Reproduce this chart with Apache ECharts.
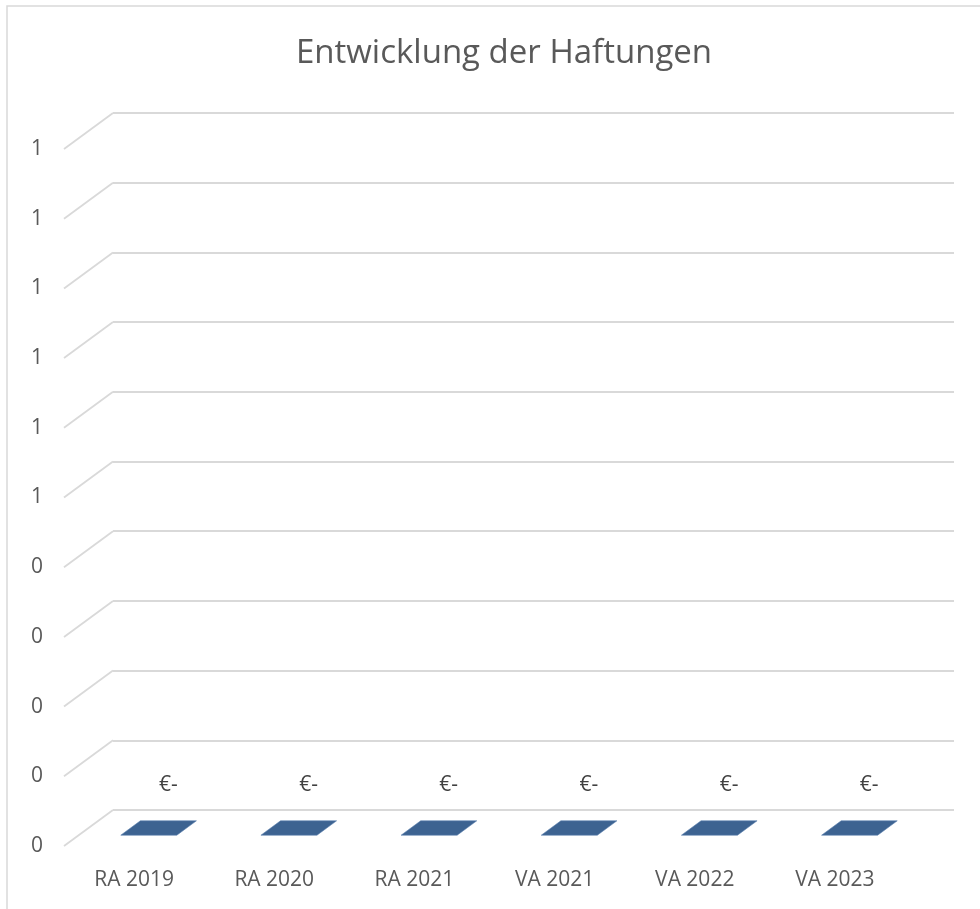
<!DOCTYPE html>
<html><head><meta charset="utf-8">
<script src="https://cdn.jsdelivr.net/npm/echarts@6/dist/echarts.min.js"></script>
<style>html,body{margin:0;padding:0;background:#fff}#c{width:980px;height:909px}</style>
</head><body><div id="c"></div>
<script>
// ---- data ----
const chartTitle = 'Entwicklung der Haftungen';
const categories = ['RA 2019', 'RA 2020', 'RA 2021', 'VA 2021', 'VA 2022', 'VA 2023'];
const haftungen = [0, 0, 0, 0, 0, 0];
const yTicks = [0, 0.1, 0.2, 0.3, 0.4, 0.5, 0.6, 0.7, 0.8, 0.9, 1];
const yTickLabels = ['0', '0', '0', '0', '0', '1', '1', '1', '1', '1', '1'];

// ---- style ----
const FONT = 'Open Sans';
const TXT = '#595959';
const GRIDC = '#d9d9d9';
const BAR = '#3d6391';
const DX = -49, DY = 36; // 3D depth offset (back -> front)

function dataLabel(v) { return v === 0 ? '€-' : '€' + v; }

const chart = echarts.init(document.getElementById('c'), null, { renderer: 'canvas' });
chart.setOption({
  animation: false,
  title: {
    text: chartTitle, left: 499, top: 32, textAlign: 'center',
    textStyle: { fontFamily: FONT, fontSize: 33, fontWeight: 'normal', color: TXT }
  },
  graphic: [{
    type: 'rect', shape: { x: 7, y: 6, width: 990, height: 920 },
    style: { fill: 'none', stroke: GRIDC, lineWidth: 1.5 }, silent: true
  }],
  grid: [
    { left: 113, top: 113, width: 841, height: 697 },               // back wall
    { left: 113 + DX, top: 113 + DY, width: 841, height: 697 }      // front edge
  ],
  xAxis: [
    { type: 'category', gridIndex: 0, data: categories, axisLine: { show: false },
      axisTick: { show: false }, axisLabel: { show: false }, splitLine: { show: false } },
    { type: 'category', gridIndex: 1, data: categories, axisLine: { show: false },
      axisTick: { show: false }, splitLine: { show: false },
      axisLabel: { margin: 24, fontFamily: FONT, fontSize: 21, color: TXT } }
  ],
  yAxis: [
    { type: 'value', gridIndex: 0, min: 0, max: 1, interval: 0.1,
      axisLine: { show: false }, axisTick: { show: false }, axisLabel: { show: false },
      splitLine: { show: true, lineStyle: { color: GRIDC, width: 1.8 } } },
    { type: 'value', gridIndex: 1, min: 0, max: 1, interval: 0.1,
      axisLine: { show: false }, axisTick: { show: false }, splitLine: { show: false },
      axisLabel: { margin: 21, fontFamily: FONT, fontSize: 21, color: TXT,
        formatter: v => yTickLabels[Math.round(v * 10)] } }
  ],
  series: [
    { // left side-wall diagonals
      type: 'custom', xAxisIndex: 0, yAxisIndex: 0, silent: true,
      data: yTicks.map(v => [0, v]),
      renderItem: (params, api) => {
        const y = api.coord([0, api.value(1)])[1];
        const x0 = params.coordSys.x;
        return { type: 'line', shape: { x1: x0 + DX, y1: y + DY, x2: x0, y2: y },
          style: { stroke: GRIDC, lineWidth: 1.8 } };
      }
    },
    { // flat 3D bars
      type: 'custom', xAxisIndex: 0, yAxisIndex: 0, name: 'Haftungen',
      data: haftungen.map((v, i) => [i, v]),
      renderItem: (params, api) => {
        const i = api.value(0), v = api.value(1);
        const c = api.coord([i, v]);
        const base = api.coord([i, 0]);
        const w = api.size([1, 0])[0] * 0.4;
        const d0 = 0.3, d1 = 0.7;
        const pts = [
          [c[0] - w / 2 + DX * d0, base[1] + DY * d0],
          [c[0] + w / 2 + DX * d0, base[1] + DY * d0],
          [c[0] + w / 2 + DX * d1, base[1] + DY * d1],
          [c[0] - w / 2 + DX * d1, base[1] + DY * d1]
        ];
        return { type: 'group', children: [
          { type: 'polygon', shape: { points: pts }, style: { fill: BAR, stroke: '#5a7fae', lineWidth: 0.6 } },
          { type: 'text', x: c[0] + DX * d0, y: c[1] + DY * d0 - 36,
            style: { text: dataLabel(v), fontFamily: FONT, fontSize: 21, fill: '#404040',
              align: 'center', verticalAlign: 'middle' } }
        ] };
      }
    }
  ]
});
</script></body></html>
